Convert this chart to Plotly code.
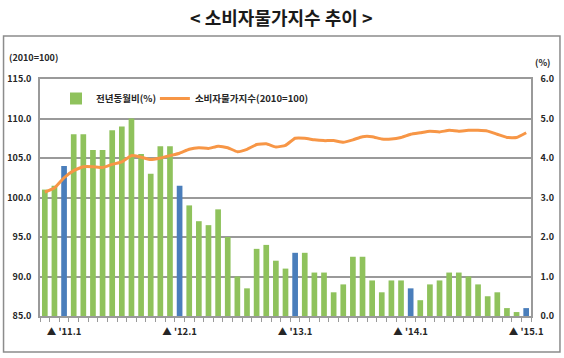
import plotly.graph_objects as go

# ---- data -------------------------------------------------------------
months = ["2010.11", "2010.12"] + [f"{y}.{m}" for y in range(2011, 2015) for m in range(1, 13)] + ["2015.1"]

yoy_pct = [3.2, 3.3, 3.8, 4.6, 4.6, 4.2, 4.2, 4.7, 4.8, 5.0, 4.1, 3.6,
           4.3, 4.3, 3.3, 2.8, 2.4, 2.3, 2.7, 2.0, 1.0, 0.7, 1.7, 1.8,
           1.4, 1.2, 1.6, 1.6, 1.1, 1.1, 0.6, 0.8, 1.5, 1.5, 0.9, 0.6,
           0.9, 0.9, 0.7, 0.4, 0.8, 0.9, 1.1, 1.1, 1.0, 0.8, 0.5, 0.6,
           0.2, 0.1, 0.2]

cpi_index = [100.7, 101.2, 102.5, 103.4, 103.9, 103.9, 103.8, 104.2, 104.5, 105.3, 105.1, 104.8,
             105.0, 105.3, 105.6, 106.1, 106.3, 106.2, 106.5, 106.3, 105.8, 106.1, 106.7, 106.8,
             106.4, 106.6, 107.5, 107.5, 107.3, 107.2, 107.2, 107.0, 107.3, 107.7, 107.7, 107.4,
             107.4, 107.6, 108.0, 108.2, 108.4, 108.3, 108.5, 108.4, 108.5, 108.5, 108.4, 108.0,
             107.6, 107.6, 108.2]

jan_labels = {"2011.1": "▲ '11.1", "2012.1": "▲ '12.1", "2013.1": "▲ '13.1",
              "2014.1": "▲ '14.1", "2015.1": "▲ '15.1"}

left_ticks = [85, 90, 95, 100, 105, 110, 115]
right_ticks = [0, 1, 2, 3, 4, 5, 6]

# ---- styling ----------------------------------------------------------
GREEN = "#8FC25C"
BLUE = "#4A7EBB"
ORANGE = "#F79646"
GRID = "#9A9A9A"
FONT = "Noto Sans CJK KR"

W, H = 564, 358
L, R, T, B = 40, 564 - 531.5, 79, 358 - 316
PW, PH = W - L - R, H - T - B

def px(x):
    return (x - L) / PW

def py(y):
    return (H - B - y) / PH

bar_colors = [BLUE if m in jan_labels else GREEN for m in months]

fig = go.Figure()
fig.add_trace(go.Bar(
    x=months, y=yoy_pct, name="전년동월비(%)",
    marker=dict(color=bar_colors, line=dict(width=0)),
    width=0.59, yaxis="y", legend="legend",
))
fig.add_trace(go.Scatter(
    x=months, y=cpi_index, name="소비자물가지수(2010=100)",
    mode="lines", line=dict(color=ORANGE, width=3, shape="spline", smoothing=0.4),
    yaxis="y2", legend="legend2",
))

leg_common = dict(orientation="h", yanchor="top", xanchor="left", y=py(84),
                  bgcolor="rgba(0,0,0,0)", font=dict(size=9.5, weight="bold", color="#262626"),
                  itemwidth=30)

fig.update_layout(
    width=W, height=H,
    margin=dict(l=L, r=R, t=T, b=B, autoexpand=False),
    paper_bgcolor="white", plot_bgcolor="white",
    font=dict(family=FONT, color="#262626"),
    showlegend=True,
    legend=dict(x=px(56), **leg_common),
    legend2=dict(x=px(155), **leg_common),
    xaxis=dict(
        type="category", range=[-0.5, len(months) - 0.5], automargin=False,
        tickmode="array", tickvals=months,
        ticktext=[jan_labels.get(m, "") for m in months],
        tickson="boundaries", ticks="outside", ticklen=4, tickcolor=GRID,
        tickfont=dict(size=9.5, weight="bold", color="#262626"),
        tickangle=0, ticklabelstandoff=6,
        showline=True, linecolor=GRID, linewidth=1.5, mirror=True,
        showgrid=False, zeroline=False,
    ),
    yaxis=dict(
        side="right", range=[0, 6], tickmode="array", tickvals=right_ticks, automargin=False,
        tickformat=".1f", showgrid=True, gridcolor=GRID, gridwidth=1.5,
        showline=True, linecolor=GRID, linewidth=1.5, zeroline=False,
        tickfont=dict(size=9, weight="bold", color="#262626"),
        ticklabelstandoff=6,
    ),
    yaxis2=dict(
        side="left", overlaying="y", range=[85, 115], tickmode="array", automargin=False,
        tickvals=left_ticks, tickformat=".1f", showgrid=False,
        showline=True, linecolor=GRID, linewidth=1.5, zeroline=False,
        tickfont=dict(size=9, weight="bold", color="#262626"),
        ticklabelstandoff=5,
    ),
)

# outer frame
fig.add_shape(type="rect", xref="paper", yref="paper",
              x0=px(3.5), x1=px(560.5), y0=py(352), y1=py(36),
              line=dict(color="#8C8C8C", width=1.5), fillcolor="rgba(0,0,0,0)", layer="above")

# title and axis unit labels
fig.add_annotation(text="< 소비자물가지수 추이 >", xref="paper", yref="paper",
                   x=px(282), y=py(17), showarrow=False,
                   font=dict(size=18, weight="bold", color="#1a1a1a"), xanchor="center", yanchor="middle")
fig.add_annotation(text="(2010=100)", xref="paper", yref="paper",
                   x=px(7), y=py(57), showarrow=False,
                   font=dict(size=9, weight="bold", color="#262626"), xanchor="left", yanchor="middle")
fig.add_annotation(text="(%)", xref="paper", yref="paper",
                   x=px(553), y=py(62), showarrow=False,
                   font=dict(size=9, weight="bold", color="#262626"), xanchor="right", yanchor="middle")

fig.write_html("out.html", config={"displayModeBar": False},
               post_script="document.body.style.margin='0';")
